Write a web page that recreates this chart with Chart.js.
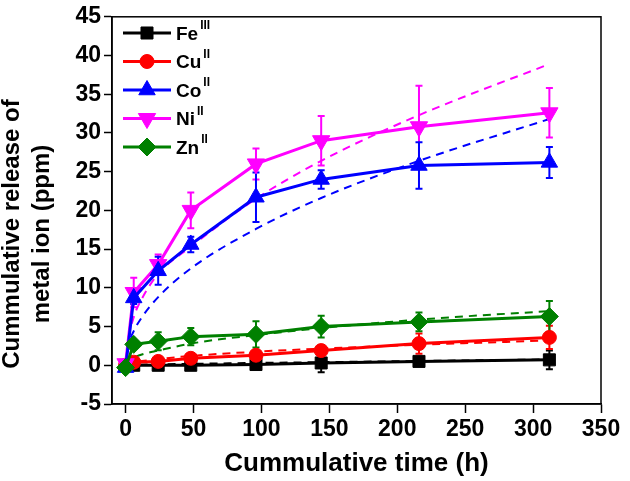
<!DOCTYPE html>
<html><head><meta charset="utf-8">
<script src="https://cdn.jsdelivr.net/npm/chart.js@4.4.1/dist/chart.umd.min.js"></script>
<style>html,body{margin:0;padding:0;background:#fff;}#wrap{width:630px;height:481px;}</style>
</head><body><div id="wrap"><canvas id="c" width="630" height="481"></canvas></div>
<script>
// ---- data ----
const times = [0, 6, 24, 48, 96, 144, 216, 312];
const feVals = [0, 0, 0, 0, 0.1, 0.3, 0.5, 0.7];
const cuVals = [0, 0.4, 0.5, 0.9, 1.3, 1.9, 2.8, 3.6];
const coVals = [-0.3, 8.7, 12.2, 15.6, 21.7, 24.0, 25.8, 26.2];
const niVals = [0.2, 9.4, 13.0, 20.0, 26.0, 29.0, 30.8, 32.6];
const znVals = [-0.3, 2.7, 3.1, 3.7, 4.0, 5.0, 5.6, 6.3];

const feErr = [0, 0.3, 0.3, 0.3, 0.4, 1.2, 0.5, 1.2];
const cuErr = [0, 0.3, 0.4, 0.5, 0.5, 0.7, 1.3, 1.5];
const coErr = [0.3, 0.8, 1.8, 1.0, 3.2, 1.2, 3.0, 2.0];
const niErr = [0.3, 1.9, 1.3, 2.3, 2.0, 3.2, 5.3, 3.2];
const znErr = [0.3, 0.5, 1.15, 1.1, 1.7, 1.4, 1.2, 2.0];

const fitTimes = [0, 2, 6, 12, 24, 48, 96, 144, 216, 312];
const feFit = [0, 0.02, 0.05, 0.08, 0.12, 0.18, 0.3, 0.4, 0.55, 0.75];
const cuFit = [0, 0.25, 0.4, 0.55, 0.8, 1.2, 1.75, 2.15, 2.65, 3.2];
const coFit = [0, 2.5, 4.4, 6.2, 8.8, 12.5, 17.6, 21.6, 26.4, 31.8];
const niFit = [0, 3.3, 6.2, 8.6, 11.8, 15.3, 21.5, 26.4, 32.3, 38.9];
const znFit = [0, 0.6, 1.0, 1.4, 1.9, 2.8, 3.9, 4.8, 5.9, 7.0];

const seriesNames = ['Fe', 'Cu', 'Co', 'Ni', 'Zn'];
const seriesSup = ['III', 'II', 'II', 'II', 'II'];
const xTicks = [0, 50, 100, 150, 200, 250, 300, 350];
const yTicks = [-5, 0, 5, 10, 15, 20, 25, 30, 35, 40, 45];
const xTitle = 'Cummulative time (h)';
const yTitleLines = ['Cummulative release of', 'metal ion (ppm)'];

// ---- styles ----
const colors = ['#000000', '#ff0000', '#0000ff', '#ff00ff', '#008000'];
const styles = ['rect', 'circle', 'triangle', 'triangle', 'rectRot'];
const radii = [8.5, 7, 9.5, 10, 9];
const rotations = [0, 0, 0, 180, 0];
const drawOrder = [5, 4, 2, 3, 1];
const valueSets = [feVals, cuVals, coVals, niVals, znVals];
const errSets = [feErr, cuErr, coErr, niErr, znErr];
const fitSets = [feFit, cuFit, coFit, niFit, znFit];
const FONT = 'Liberation Sans';

const pts = (xs, ys) => xs.map((x, i) => ({x: x, y: ys[i]}));

const datasets = [];
fitSets.forEach((f, k) => {
  datasets.push({
    label: seriesNames[k] + ' fit', data: pts(fitTimes, f),
    borderColor: colors[k], backgroundColor: colors[k], borderWidth: 2,
    borderDash: [8, 6], pointRadius: 0, cubicInterpolationMode: 'monotone',
    order: 10 + k
  });
});
valueSets.forEach((v, k) => {
  datasets.push({
    label: seriesNames[k], data: pts(times, v),
    borderColor: colors[k], backgroundColor: colors[k], borderWidth: 3,
    pointStyle: styles[k], pointRadius: radii[k], pointRotation: rotations[k],
    pointBorderWidth: 1, pointBackgroundColor: colors[k], pointBorderColor: colors[k],
    tension: 0, order: drawOrder[k]
  });
});

const errorBars = {
  id: 'errorBars',
  beforeDatasetsDraw(chart) {
    const ctx = chart.ctx, xs = chart.scales.x, ys = chart.scales.y;
    ctx.save();
    ctx.lineWidth = 2;
    [0, 1, 3, 2, 4].forEach(k => {
      ctx.strokeStyle = colors[k];
      times.forEach((t, i) => {
        const e = errSets[k][i];
        if (!e) return;
        const x = xs.getPixelForValue(t);
        const y1 = ys.getPixelForValue(valueSets[k][i] + e);
        const y2 = ys.getPixelForValue(valueSets[k][i] - e);
        ctx.beginPath();
        ctx.moveTo(x, y1); ctx.lineTo(x, y2);
        ctx.moveTo(x - 3.5, y1); ctx.lineTo(x + 3.5, y1);
        ctx.moveTo(x - 3.5, y2); ctx.lineTo(x + 3.5, y2);
        ctx.stroke();
      });
    });
    ctx.restore();
  }
};

const frame = {
  id: 'frame',
  beforeDatasetsDraw(chart) {
    const a = chart.chartArea, ctx = chart.ctx;
    ctx.save();
    ctx.strokeStyle = '#000'; ctx.lineWidth = 1.5;
    ctx.strokeRect(a.left, a.top, a.right - a.left, a.bottom - a.top);
    ctx.restore();
  }
};

const customLegend = {
  id: 'customLegend',
  afterDraw(chart) {
    const ctx = chart.ctx;
    ctx.save();
    const rowY = [33, 61.5, 90, 118.5, 147];
    seriesNames.forEach((name, k) => {
      const y = rowY[k];
      ctx.strokeStyle = colors[k]; ctx.fillStyle = colors[k];
      ctx.lineWidth = 3;
      ctx.beginPath(); ctx.moveTo(123, y); ctx.lineTo(171, y); ctx.stroke();
      ctx.lineWidth = 1;
      Chart.helpers.drawPoint(ctx, {pointStyle: styles[k], radius: radii[k], rotation: rotations[k], borderWidth: 1}, 147, y);
      ctx.fillStyle = '#000';
      ctx.textBaseline = 'alphabetic'; ctx.textAlign = 'left';
      ctx.font = 'bold 19px "' + FONT + '"';
      ctx.fillText(name, 176, y + 6.5);
      const w = ctx.measureText(name).width;
      ctx.font = 'bold 12px "' + FONT + '"';
      ctx.fillText(seriesSup[k], 176 + w + 2, y - 4);
    });
    ctx.restore();
  }
};

const yTitle = {
  id: 'yTitle',
  afterDraw(chart) {
    const ctx = chart.ctx;
    ctx.save();
    ctx.fillStyle = '#000';
    ctx.font = 'bold 24px "' + FONT + '"';
    ctx.textAlign = 'center'; ctx.textBaseline = 'middle';
    const xsPos = [12, 42];
    yTitleLines.forEach((line, i) => {
      ctx.save();
      ctx.translate(xsPos[i], 234);
      ctx.rotate(-Math.PI / 2);
      ctx.fillText(line, 0, 0);
      ctx.restore();
    });
    ctx.restore();
  }
};

const tickFont = {family: FONT, weight: 'bold', size: 23};

new Chart(document.getElementById('c'), {
  type: 'line',
  data: {datasets: datasets},
  options: {
    responsive: false, animation: false, devicePixelRatio: 1, events: [],
    layout: {padding: {top: 12, right: 29, bottom: 0, left: 0}},
    plugins: {legend: {display: false}, tooltip: {enabled: false}, title: {display: false}},
    scales: {
      x: {
        type: 'linear', min: -10, max: 350,
        afterBuildTicks: s => { s.ticks = xTicks.map(v => ({value: v})); },
        afterFit: s => { s.height = 77; },
        border: {display: true, color: '#000', width: 1.5},
        grid: {display: true, drawOnChartArea: false, drawTicks: true, tickLength: 9, tickWidth: 1.5, tickColor: '#000'},
        ticks: {color: '#000', font: tickFont, padding: 3, maxRotation: 0, autoSkip: false},
        title: {display: true, text: xTitle, color: '#000', font: {family: FONT, weight: 'bold', size: 26}, padding: {top: 0, bottom: 2}}
      },
      y: {
        type: 'linear', min: -5, max: 45,
        afterBuildTicks: s => { s.ticks = yTicks.map(v => ({value: v})); },
        afterFit: s => { s.width = 112; },
        border: {display: true, color: '#000', width: 1.5},
        grid: {display: true, drawOnChartArea: false, drawTicks: true, tickLength: 8, tickWidth: 1.5, tickColor: '#000'},
        ticks: {color: '#000', font: tickFont, padding: 3, autoSkip: false}
      }
    }
  },
  plugins: [frame, errorBars, customLegend, yTitle]
});
</script>
</body></html>
